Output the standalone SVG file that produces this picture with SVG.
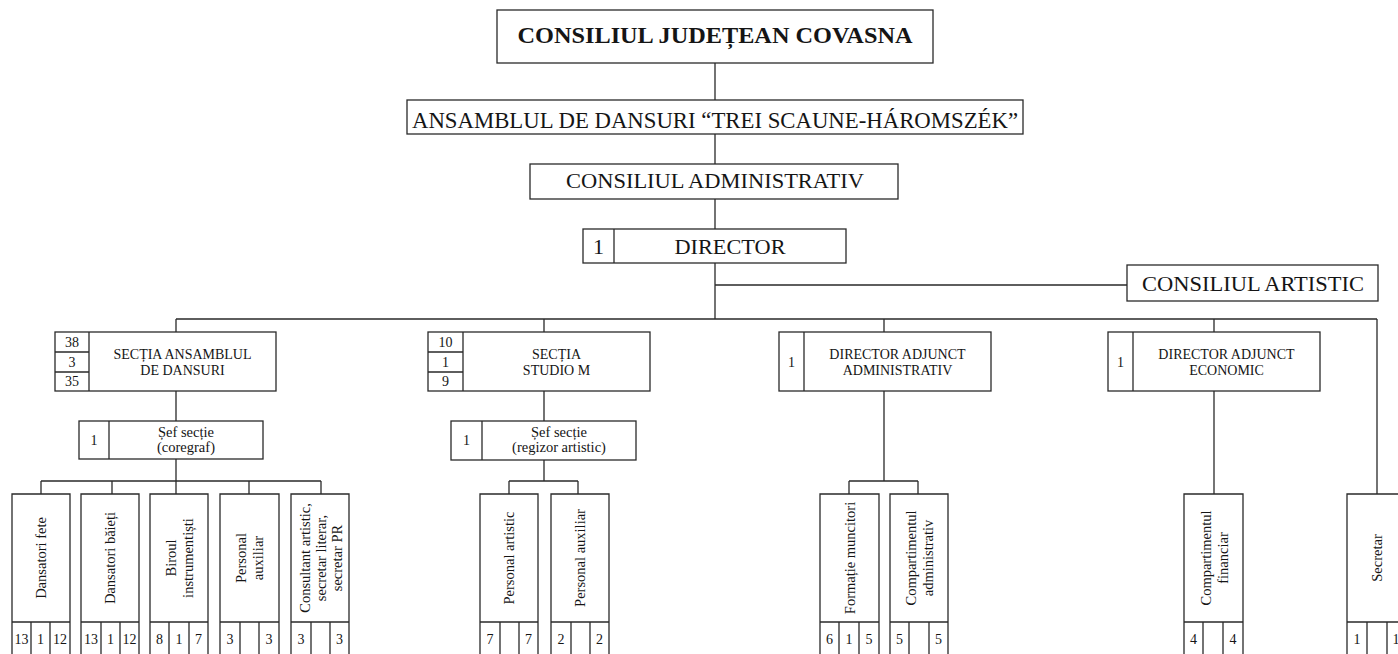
<svg xmlns="http://www.w3.org/2000/svg" width="1398" height="654" viewBox="0 0 1398 654">
<style>
.b{fill:#fff;stroke:#2a2a2a;stroke-width:1.3}
.l{fill:none;stroke:#2a2a2a;stroke-width:1.3}
text{font-family:"Liberation Serif","Times New Roman",serif;fill:#151515}
.t22{font-size:22px;text-anchor:middle}
.t14{font-size:14px;text-anchor:middle}
.v{font-size:14.5px;text-anchor:middle}
</style>
<rect width="1398" height="654" fill="#fff"/>
<g id="connectors" class="l">
<path d="M715 63V100M715 134V164M715 199V229M715 263V319M715 285H1127"/>
<path d="M176 319H1377M176 319V332M544 319V332M884 319V332M1214 319V332M1377 319V494"/>
<path d="M176 391V421M176 459V494M41 481H321M41 481V494M112 481V494M249 481V494M321 481V494"/>
<path d="M544 391V421M544 460V481M509 481H578M509 481V494M578 481V494"/>
<path d="M884 391V481M849 481H918M849 481V494M918 481V494"/>
<path d="M1214 391V494"/>
</g>
<g id="n-cjc"><rect class="b" x="497" y="10" width="436" height="53"/><text x="715" y="43" style="font-size:24px;font-weight:bold;text-anchor:middle" textLength="395" lengthAdjust="spacingAndGlyphs">CONSILIUL JUDEȚEAN COVASNA</text></g>
<g id="n-ansamblul"><rect class="b" x="407" y="100" width="616" height="34"/><text class="t22" x="715" y="127.5" style="font-size:23px" textLength="606" lengthAdjust="spacingAndGlyphs">ANSAMBLUL DE DANSURI “TREI SCAUNE-HÁROMSZÉK”</text></g>
<g id="n-ca"><rect class="b" x="530" y="164" width="368" height="35"/><text class="t22" x="715" y="188" textLength="298" lengthAdjust="spacingAndGlyphs">CONSILIUL ADMINISTRATIV</text></g>
<g id="n-director"><rect class="b" x="583" y="229" width="263" height="34"/><path class="l" d="M614 229V263"/><text class="t22" x="598.5" y="254">1</text><text class="t22" x="730" y="254" textLength="111" lengthAdjust="spacingAndGlyphs">DIRECTOR</text></g>
<g id="n-cart"><rect class="b" x="1127" y="265" width="251" height="36"/><text class="t22" x="1253" y="291" textLength="222" lengthAdjust="spacingAndGlyphs">CONSILIUL ARTISTIC</text></g>

<g id="n-sa"><rect class="b" x="55" y="332" width="221" height="59"/><path class="l" d="M89 332V391M55 352H89M55 372H89"/>
<text class="t14" x="72" y="347">38</text><text class="t14" x="72" y="366.5">3</text><text class="t14" x="72" y="386">35</text>
<text class="t14" x="182.5" y="359">SECȚIA ANSAMBLUL</text><text class="t14" x="182.5" y="375">DE DANSURI</text></g>
<g id="n-sm"><rect class="b" x="428" y="332" width="222" height="59"/><path class="l" d="M463 332V391M428 352H463M428 372H463"/>
<text class="t14" x="445.5" y="347">10</text><text class="t14" x="445.5" y="366.5">1</text><text class="t14" x="445.5" y="386">9</text>
<text class="t14" x="556.5" y="359">SECȚIA</text><text class="t14" x="556.5" y="375">STUDIO M</text></g>
<g id="n-daa"><rect class="b" x="779" y="332" width="212" height="59"/><path class="l" d="M804 332V391"/>
<text class="t14" x="791.5" y="367">1</text><text class="t14" x="897.5" y="359">DIRECTOR ADJUNCT</text><text class="t14" x="897.5" y="375">ADMINISTRATIV</text></g>
<g id="n-dae"><rect class="b" x="1108" y="332" width="212" height="59"/><path class="l" d="M1133 332V391"/>
<text class="t14" x="1120.5" y="367">1</text><text class="t14" x="1226.5" y="359">DIRECTOR ADJUNCT</text><text class="t14" x="1226.5" y="375">ECONOMIC</text></g>

<g id="n-sef1"><rect class="b" x="79" y="421" width="184" height="38"/><path class="l" d="M109 421V459"/>
<text class="t14" x="94" y="445">1</text><text class="t14" x="186" y="437" style="font-size:14.5px">Șef secție</text><text class="t14" x="186" y="452" style="font-size:14.5px">(coregraf)</text></g>
<g id="n-sef2"><rect class="b" x="451" y="421" width="185" height="39"/><path class="l" d="M482 421V460"/>
<text class="t14" x="466.5" y="445">1</text><text class="t14" x="559" y="437" style="font-size:14.5px">Șef secție</text><text class="t14" x="559" y="452" style="font-size:14.5px">(regizor artistic)</text></g>

<g id="n-df"><path class="b" d="M12 654V494H70V654"/><path class="l" d="M12 622H70M31 622V654M50 622V654"/>
<text class="v" transform="translate(41 558) rotate(-90)" y="5">Dansatori fete</text>
<text class="t14" x="21.5" y="644">13</text><text class="t14" x="40.5" y="644">1</text><text class="t14" x="60" y="644">12</text></g>
<g id="n-db"><path class="b" d="M81 654V494H139V654"/><path class="l" d="M81 622H139M101 622V654M120 622V654"/>
<text class="v" transform="translate(110 558) rotate(-90)" y="5">Dansatori băieți</text>
<text class="t14" x="91" y="644">13</text><text class="t14" x="110.5" y="644">1</text><text class="t14" x="129.5" y="644">12</text></g>
<g id="n-bi"><path class="b" d="M150 654V494H208V654"/><path class="l" d="M150 622H208M169 622V654M189 622V654"/>
<text class="v" transform="translate(179 558) rotate(-90)"><tspan x="0" y="-3.5">Biroul</tspan><tspan x="0" y="13.5">instrumentiști</tspan></text>
<text class="t14" x="159.5" y="644">8</text><text class="t14" x="179" y="644">1</text><text class="t14" x="198.5" y="644">7</text></g>
<g id="n-pa1"><path class="b" d="M220 654V494H279V654"/><path class="l" d="M220 622H279M240 622V654M259 622V654"/>
<text class="v" transform="translate(249.5 558) rotate(-90)"><tspan x="0" y="-3.5">Personal</tspan><tspan x="0" y="13.5">auxiliar</tspan></text>
<text class="t14" x="230" y="644">3</text><text class="t14" x="269" y="644">3</text></g>
<g id="n-cons"><path class="b" d="M291 654V494H349V654"/><path class="l" d="M291 622H349M311 622V654M330 622V654"/>
<text class="v" transform="translate(320.5 558) rotate(-90)"><tspan x="0" y="-11">Consultant artistic,</tspan><tspan x="0" y="5">secretar literar,</tspan><tspan x="0" y="21">secretar PR</tspan></text>
<text class="t14" x="301" y="644">3</text><text class="t14" x="339.5" y="644">3</text></g>

<g id="n-part"><path class="b" d="M480 654V494H538V654"/><path class="l" d="M480 622H538M500 622V654M519 622V654"/>
<text class="v" transform="translate(509 558) rotate(-90)" y="5">Personal artistic</text>
<text class="t14" x="490" y="644">7</text><text class="t14" x="528.5" y="644">7</text></g>
<g id="n-paux2"><path class="b" d="M551 654V494H609V654"/><path class="l" d="M551 622H609M571 622V654M590 622V654"/>
<text class="v" transform="translate(580 558) rotate(-90)" y="5">Personal auxiliar</text>
<text class="t14" x="561" y="644">2</text><text class="t14" x="599.5" y="644">2</text></g>

<g id="n-fm"><path class="b" d="M820 654V494H879V654"/><path class="l" d="M820 622H879M839 622V654M859 622V654"/>
<text class="v" transform="translate(850 558) rotate(-90)" y="5">Formație muncitori</text>
<text class="t14" x="829.5" y="644">6</text><text class="t14" x="849" y="644">1</text><text class="t14" x="869" y="644">5</text></g>
<g id="n-cadm"><path class="b" d="M890 654V494H948V654"/><path class="l" d="M890 622H948M909 622V654M929 622V654"/>
<text class="v" transform="translate(919.5 558) rotate(-90)"><tspan x="0" y="-3.5">Compartimentul</tspan><tspan x="0" y="13.5">administrativ</tspan></text>
<text class="t14" x="899.5" y="644">5</text><text class="t14" x="938.5" y="644">5</text></g>
<g id="n-cfin"><path class="b" d="M1184 654V494H1243V654"/><path class="l" d="M1184 622H1243M1203 622V654M1223 622V654"/>
<text class="v" transform="translate(1214 558) rotate(-90)"><tspan x="0" y="-3.5">Compartimentul</tspan><tspan x="0" y="13.5">financiar</tspan></text>
<text class="t14" x="1193.5" y="644">4</text><text class="t14" x="1233" y="644">4</text></g>
<g id="n-sec"><path class="b" d="M1347 654V494H1405V654"/><path class="l" d="M1347 622H1405M1367 622V654M1387 622V654"/>
<text class="v" transform="translate(1377 558) rotate(-90)" y="5">Secretar</text>
<text class="t14" x="1357" y="644">1</text><text class="t14" x="1396" y="644">1</text></g>
</svg>
